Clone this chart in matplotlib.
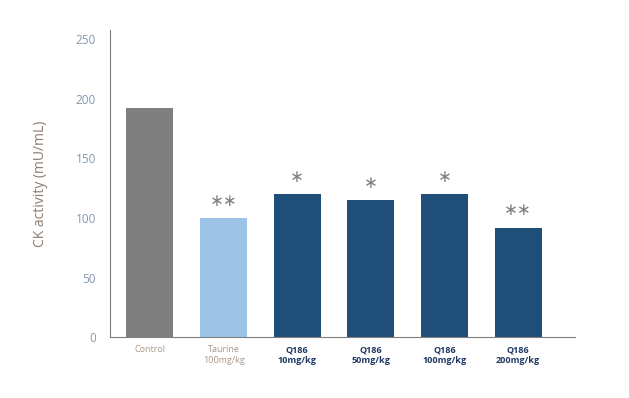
import matplotlib.pyplot as plt

# Data
groups = ['Control', 'Taurine\n100mg/kg', 'Q186\n10mg/kg', 'Q186\n50mg/kg',
          'Q186\n100mg/kg', 'Q186\n200mg/kg']
ck_activity = [192, 100, 120, 115, 120, 92]
signif = ['', '**', '*', '*', '*', '**']

bar_colors = ['#7f7f7f', '#9dc3e6', '#1f4e79', '#1f4e79', '#1f4e79', '#1f4e79']

plt.rcParams['font.family'] = ['Open Sans', 'DejaVu Sans']

fig = plt.figure(figsize=(6.29, 3.98), dpi=100)
ax = fig.add_axes([0.175, 0.153, 0.739, 0.772])

x = list(range(len(groups)))
ax.bar(x, ck_activity, color=bar_colors, width=0.64)

# significance marks above bars
for xi, v, s in zip(x, ck_activity, signif):
    if s:
        ax.text(xi, v + 7, s.replace('*', '\u2217'), ha='center', va='bottom',
                fontsize=12, color='#7f7f7f')

ax.set_xlim(-0.54, 5.77)
ax.set_ylim(0, 258)
ax.set_yticks([0, 50, 100, 150, 200, 250])
ax.tick_params(axis='y', length=0, labelsize=8.5, labelcolor='#8497b0', pad=10)
ax.tick_params(axis='x', length=0, pad=6)
ax.set_xticks(x)
ax.set_xticklabels(groups)
for i, lbl in enumerate(ax.get_xticklabels()):
    if i < 2:
        lbl.set_color('#a8988a')
        lbl.set_fontsize(6.5)
    else:
        lbl.set_color('#1f3864')
        lbl.set_fontsize(6.5)
        lbl.set_fontweight('bold')

ax.set_ylabel('CK activity (mU/mL)', fontsize=10, color='#8c7b70', labelpad=20)

for side in ['top', 'right']:
    ax.spines[side].set_visible(False)
for side in ['left', 'bottom']:
    ax.spines[side].set_color('#7f7f7f')
    ax.spines[side].set_linewidth(0.8)

fig.savefig('out.png', dpi=100)
